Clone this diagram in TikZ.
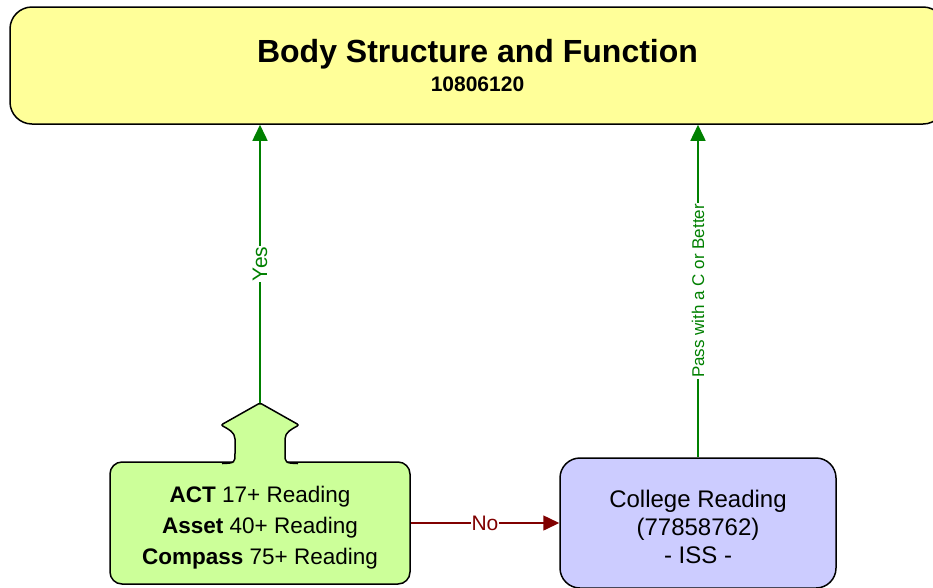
\documentclass[tikz,border=0pt]{standalone}
\usepackage{fontspec}
\setmainfont{Liberation Sans}
\usetikzlibrary{arrows.meta}
\definecolor{topfill}{RGB}{255,255,153}
\definecolor{testfill}{RGB}{204,255,153}
\definecolor{coursefill}{RGB}{204,204,255}
\definecolor{passgreen}{RGB}{0,128,0}
\definecolor{failred}{RGB}{128,0,0}
\begin{document}
\begin{tikzpicture}[x=1pt, y=-1pt,
  box/.style={draw=black, line width=1.5pt, align=center, inner sep=0pt},
  flow/.style={line width=1.5pt, -{Triangle[length=16pt,width=15pt]}},
  lbl/.style={fill=white, inner sep=1pt, font=\fontsize{21}{24}\selectfont}]
\useasboundingbox (0,0) rectangle (933,587);

\node[box, fill=topfill, rounded corners=22pt, minimum width=935pt, minimum height=117pt] (course) at (477.5,65.5)
  {\fontsize{32}{36}\selectfont\bfseries Body Structure and Function\\[7pt]
   \fontsize{21}{30}\selectfont\bfseries 10806120};

\node[box, fill=testfill, rounded corners=12pt, minimum width=300pt, minimum height=122pt,
  font=\fontsize{22.5}{31}\selectfont] (test) at (260,523)
  {\rule{0pt}{25pt}\textbf{ACT} 17+ Reading\\\textbf{Asset} 40+ Reading\\\textbf{Compass} 75+ Reading};
\coordinate (tip) at (260,403);
\path[draw=black, line width=1.5pt, fill=testfill, rounded corners=2pt]
  (222,463.5) .. controls (235,463) .. (235,451) -- (235,441)
  .. controls (235,432) and (228,429) .. (221,425) -- (tip) -- (299,425)
  .. controls (292,429) and (285,432) .. (285,441) -- (285,451)
  .. controls (285,463) .. (298,463.5);

\node[box, fill=coursefill, rounded corners=20pt, minimum width=276pt, minimum height=130pt,
  font=\fontsize{24}{28}\selectfont] (reading) at (698,523)
  {\rule{0pt}{25pt}College Reading\\(77858762)\\- ISS -};

\draw[flow, passgreen] (tip) -- (tip |- course.south)
  node[lbl, midway, rotate=90, text=passgreen] {Yes};
\draw[flow, passgreen] (reading.north) -- (reading.north |- course.south)
  node[lbl, midway, rotate=90, text=passgreen, font=\fontsize{17}{20}\selectfont] {Pass with a C or Better};
\draw[flow, failred] (test.east) -- (reading.west)
  node[lbl, midway, text=failred] {No};

\end{tikzpicture}
\end{document}
